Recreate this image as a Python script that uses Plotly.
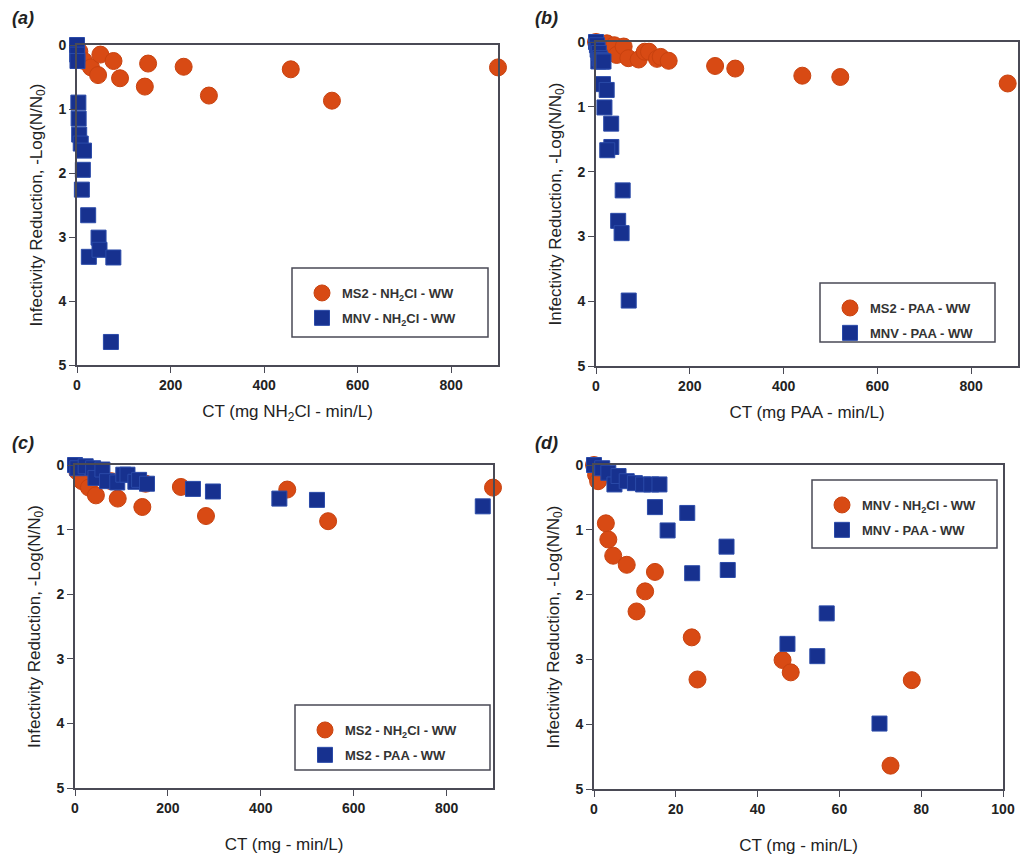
import plotly.graph_objects as go

# ---------------- data ----------------
# MS2 - NH2Cl - WW
ms2_nh2cl_ct = [5, 15, 30, 45, 50, 78, 92, 145, 152, 228, 282, 457, 545, 900]
ms2_nh2cl_lr = [0.10, 0.25, 0.35, 0.47, 0.15, 0.25, 0.52, 0.65, 0.29, 0.34, 0.79, 0.38, 0.87, 0.35]

# MS2 - PAA - WW
ms2_paa_ct = [0, 5, 23, 39, 44, 59, 69, 91, 104, 113, 130, 138, 155, 254, 297, 440, 521, 878]
ms2_paa_lr = [0.0, 0.05, 0.02, 0.05, 0.20, 0.07, 0.25, 0.27, 0.15, 0.15, 0.26, 0.23, 0.29, 0.37, 0.41, 0.52, 0.54, 0.64]

# MNV - NH2Cl - WW
mnv_nh2cl_ct = [0, 0.5, 1, 2.9, 3.5, 4.7, 8.0, 14.9, 12.5, 10.4, 23.9, 25.3, 46.1, 48.1, 77.7, 72.5]
mnv_nh2cl_lr = [0.0, 0.15, 0.25, 0.90, 1.15, 1.40, 1.54, 1.65, 1.95, 2.26, 2.66, 3.31, 3.01, 3.20, 3.32, 4.64]

# MNV - PAA - WW
mnv_paa_ct = [0, 2, 3.5, 5, 6, 8, 10, 12, 14, 16, 14.9, 22.8, 18.0, 32.4, 32.7, 24.0, 56.9, 47.3, 54.6, 69.8]
mnv_paa_lr = [0.0, 0.05, 0.12, 0.30, 0.17, 0.25, 0.28, 0.30, 0.30, 0.30, 0.65, 0.74, 1.01, 1.26, 1.62, 1.67, 2.29, 2.76, 2.95, 3.99]

y_ticks = [0, 1, 2, 3, 4, 5]
x_ticks_big = [0, 200, 400, 600, 800]
x_ticks_small = [0, 20, 40, 60, 80, 100]

ORANGE = "#d84a14"
BLUE = "#17318f"

W, H = 1025, 855

def px_x(p):
    return p / W

def px_y(p):
    return 1 - p / H

# panel plot-area boxes in pixels: (left, right, top, bottom)
boxes = {
    "a": (77, 498, 45, 365),
    "b": (596, 1018, 42, 366),
    "c": (75, 493, 465, 788),
    "d": (594, 1003, 465, 789),
}

fig = go.Figure()

AX_COLOR = "#4a4a55"
tickfont = dict(family="Liberation Sans Narrow, Arial Narrow, Liberation Sans, Arial", size=14,
                color="#222", weight="bold")
titlefont = dict(family="Liberation Sans, Arial", size=17, color="#222")

def circ(x, y, name, xa, ya, leg):
    return go.Scatter(x=x, y=y, mode="markers", name=name, xaxis=xa, yaxis=ya,
                      legend=leg, legendgroup=name + leg, cliponaxis=False,
                      marker=dict(symbol="circle", size=17, color=ORANGE,
                                  line=dict(color="#c8420f", width=1)))

def sq(x, y, name, xa, ya, leg):
    return go.Scatter(x=x, y=y, mode="markers", name=name, xaxis=xa, yaxis=ya,
                      legend=leg, legendgroup=name + leg, cliponaxis=False,
                      marker=dict(symbol="square", size=15, color=BLUE,
                                  line=dict(color="#2a4aa8", width=1)))

N1 = "MS2 - NH<sub>2</sub>Cl - WW"
N2 = "MNV - NH<sub>2</sub>Cl - WW"
N3 = "MS2 - PAA - WW"
N4 = "MNV - PAA - WW"

# (a)
fig.add_trace(circ(ms2_nh2cl_ct, ms2_nh2cl_lr, N1, "x", "y", "legend"))
fig.add_trace(sq(mnv_nh2cl_ct, mnv_nh2cl_lr, N2, "x", "y", "legend"))
# (b)
fig.add_trace(circ(ms2_paa_ct, ms2_paa_lr, N3, "x2", "y2", "legend2"))
fig.add_trace(sq(mnv_paa_ct, mnv_paa_lr, N4, "x2", "y2", "legend2"))
# (c)
fig.add_trace(circ(ms2_nh2cl_ct, ms2_nh2cl_lr, N1, "x3", "y3", "legend3"))
fig.add_trace(sq(ms2_paa_ct, ms2_paa_lr, "MS2 - PAA - WW", "x3", "y3", "legend3"))
# (d)
fig.add_trace(circ(mnv_nh2cl_ct, mnv_nh2cl_lr, N2, "x4", "y4", "legend4"))
fig.add_trace(sq(mnv_paa_ct, mnv_paa_lr, N4, "x4", "y4", "legend4"))

xtitles = {
    "a": "CT (mg NH<sub>2</sub>Cl - min/L)",
    "b": "CT (mg PAA - min/L)",
    "c": "CT (mg - min/L)",
    "d": "CT (mg - min/L)",
}
ytitle = "Infectivity Reduction, -Log(N/N<sub>0</sub>)"

layout = {}
for i, key in enumerate(["a", "b", "c", "d"]):
    l, r, t, b = boxes[key]
    suffix = "" if i == 0 else str(i + 1)
    big = key in ("a", "b", "c")
    layout["xaxis" + suffix] = dict(
        domain=[px_x(l), px_x(r)],
        anchor="y" + suffix,
        range=[0, 900] if big else [0, 100],
        tickvals=x_ticks_big if big else x_ticks_small,
        ticks="outside", ticklen=6, tickwidth=1.3, tickcolor=AX_COLOR,
        showline=True, linecolor=AX_COLOR, linewidth=1.6, mirror=True,
        showgrid=False, zeroline=False, tickfont=tickfont, automargin=False,
        title=dict(text=xtitles[key], font=titlefont,
                   standoff=14 if key in ("a", "b") else 24),
    )
    layout["yaxis" + suffix] = dict(
        domain=[px_y(b), px_y(t)],
        anchor="x" + suffix,
        range=[5, 0],
        tickvals=y_ticks,
        ticks="outside", ticklen=6, tickwidth=1.3, tickcolor=AX_COLOR,
        showline=True, linecolor=AX_COLOR, linewidth=1.6, mirror=True,
        showgrid=False, zeroline=False, tickfont=tickfont, automargin=False,
        title=dict(text=ytitle, font=titlefont, standoff=12),
    )

fig.update_layout(**layout)

# legend boxes (pixel coords: left, top, right, bottom)
leg_boxes = {
    "legend": (292, 268, 488, 337),
    "legend2": (820, 283, 995, 342),
    "legend3": (295, 705, 490, 770),
    "legend4": (812, 480, 997, 548),
}
legfont = dict(family="Liberation Sans Narrow, Arial Narrow, Liberation Sans, Arial", size=13,
               color="#333", weight="bold")
shapes = []
for name, (l, t, r, b) in leg_boxes.items():
    shapes.append(dict(type="rect", xref="paper", yref="paper",
                       x0=px_x(l), x1=px_x(r), y0=px_y(b), y1=px_y(t),
                       line=dict(color=AX_COLOR, width=1.5), fillcolor="rgba(0,0,0,0)"))
    fig.update_layout(**{name: dict(x=px_x(l + 10), y=px_y(t + 10), xanchor="left", yanchor="top",
                                    bgcolor="rgba(0,0,0,0)", borderwidth=0, font=legfont,
                                    tracegroupgap=5, itemsizing="trace")})

annotations = []
for lab, (x, y) in {"(a)": (23, 18), "(b)": (546, 18), "(c)": (23, 443), "(d)": (546, 443)}.items():
    annotations.append(dict(text="<b><i>" + lab + "</i></b>", x=px_x(x), y=px_y(y),
                            xref="paper", yref="paper", showarrow=False,
                            xanchor="center", yanchor="middle",
                            font=dict(family="Liberation Sans, Arial", size=18, color="#222")))

fig.update_layout(width=W, height=H, margin=dict(l=0, r=0, t=0, b=0, autoexpand=False),
                  paper_bgcolor="white", plot_bgcolor="white",
                  shapes=shapes, annotations=annotations, showlegend=True)

fig.write_html("out.html", config={"displayModeBar": False},
               post_script="document.body.style.margin='0';document.body.style.overflow='hidden';")
